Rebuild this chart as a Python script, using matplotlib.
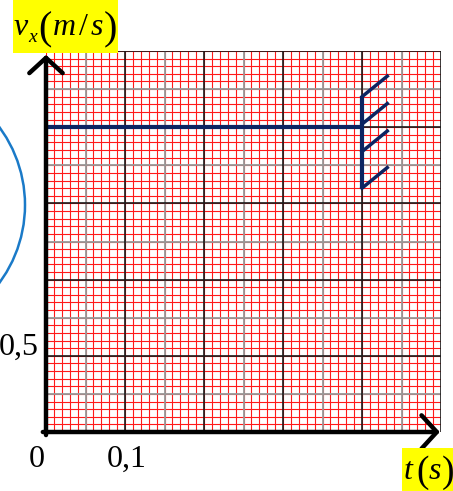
import numpy as np
import matplotlib
matplotlib.use("Agg")
import matplotlib.pyplot as plt
from matplotlib.patches import Rectangle, Ellipse

plt.rcParams["mathtext.fontset"] = "custom"
plt.rcParams["mathtext.rm"] = "Liberation Serif"
plt.rcParams["mathtext.it"] = "Liberation Serif:italic"

# data
t_line = [0.0, 0.4]
v_line = [2.0, 2.0]
wall_t = [0.4, 0.4]
wall_v = [1.6, 2.2]
hatch_v = [2.2, 2.02, 1.84, 1.6]
hatch_dt = 0.032
hatch_dv = 0.135

x_ticks = [0.0, 0.1]
x_labels = ["0", "0,1"]
y_tick_label = "0,5"

W, H = 453, 491
fig = plt.figure(figsize=(W / 100, H / 100), dpi=100)
ax = fig.add_axes([46 / W, 59 / H, 395 / W, 381 / H])
ax.set_xlim(0, 0.5)
ax.set_ylim(0, 2.5)

# graph paper
for x in np.arange(0, 0.5001, 0.01):
    ax.axvline(x, color="#ff1a1a", lw=0.8, zorder=1)
for y in np.arange(0, 2.5001, 0.05):
    ax.axhline(y, color="#ff1a1a", lw=0.8, zorder=1)
for x in np.arange(0.05, 0.5, 0.1):
    ax.axvline(x, color="#999999", lw=1.3, zorder=2)
for y in np.arange(0.25, 2.5, 0.5):
    ax.axhline(y, color="#999999", lw=1.3, zorder=2)
for x in np.arange(0.1, 0.5001, 0.1):
    ax.axvline(x, color="#1a1a1a", lw=1.2, zorder=3)
for y in np.arange(0.5, 2.5001, 0.5):
    ax.axhline(y, color="#1a1a1a", lw=1.2, zorder=3)

navy = "#0c2462"
ax.plot(t_line, v_line, color=navy, lw=3, solid_capstyle="butt", zorder=5)
ax.plot(wall_t, wall_v, color=navy, lw=3, solid_capstyle="butt", zorder=5)
for hv in hatch_v:
    ax.plot([wall_t[0], wall_t[0] + hatch_dt], [hv, hv + hatch_dv],
            color=navy, lw=2.5, zorder=5)

for s in ax.spines.values():
    s.set_visible(False)
ax.set_xticks([])
ax.set_yticks([])

arrow = dict(arrowstyle="->,head_length=0.55,head_width=0.6", lw=3.2,
             color="k", shrinkA=0, shrinkB=0, mutation_scale=20)
ax.annotate("", xy=(0, 0.99), xytext=(0, -0.008), xycoords="axes fraction",
            arrowprops=arrow, annotation_clip=False, zorder=10)
ax.annotate("", xy=(0.997, 0), xytext=(-0.008, 0), xycoords="axes fraction",
            arrowprops=arrow, annotation_clip=False, zorder=10)


def put(px, py, s, size, **kw):
    # px, py: pixel position from the top-left corner
    fig.text(px / W, 1 - py / H, s, fontsize=size, ha="left",
             va="baseline", **kw)


# axis titles on yellow
fig.add_artist(Rectangle((13 / W, 1 - 53 / H), 105 / W, 53 / H,
                         facecolor="#ffff00", edgecolor="none"))
put(13, 35, r"$v$", 23)
put(28, 42, r"$x$", 14)
put(38, 39, "(", 29, family="Liberation Serif")
put(52, 35, r"$m$", 23)
put(78, 35, r"$/$", 23)
put(90, 35, r"$s$", 23)
put(104, 39, ")", 29, family="Liberation Serif")

fig.add_artist(Rectangle((402 / W, 0), 51 / W, 43 / H,
                         facecolor="#ffff00", edgecolor="none"))
put(403, 479, r"$t$", 23)
put(416, 482, "(", 27, family="Liberation Serif")
put(428, 479, r"$s$", 23)
put(442, 482, ")", 27, family="Liberation Serif")

serif = "Liberation Serif"
fig.text(39 / W, 1 - 355 / H, y_tick_label, fontsize=23, family=serif,
         ha="right", va="baseline")
fig.text(37 / W, 1 - 467 / H, x_labels[0], fontsize=23, family=serif,
         ha="center", va="baseline")
fig.text(127 / W, 1 - 467 / H, x_labels[1], fontsize=23, family=serif,
         ha="center", va="baseline")

# edge of the school stamp
fig.add_artist(Ellipse((-106 / W, 1 - 205 / H), 262 / W, 262 / H,
                       facecolor="none", edgecolor="#1a7ac8", lw=1.8))

fig.savefig("out.png", dpi=100)
